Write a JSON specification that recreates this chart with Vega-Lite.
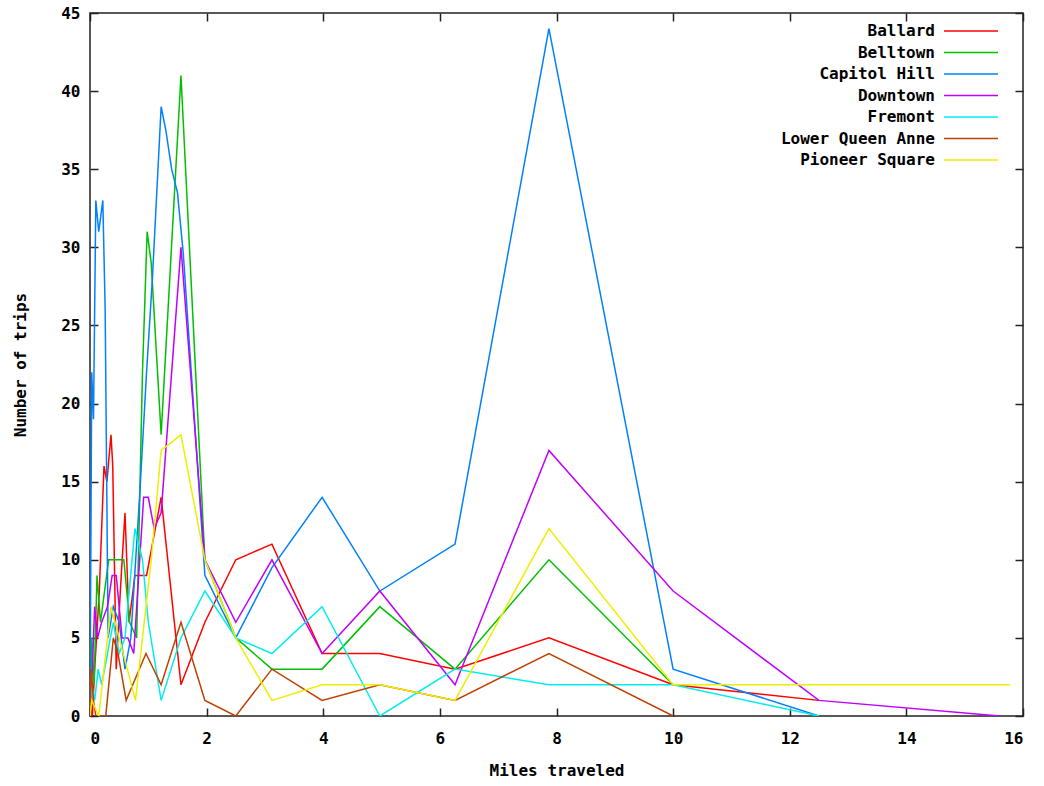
{
  "$schema": "https://vega.github.io/schema/vega-lite/v6.json",
  "width": 933,
  "height": 703,
  "autosize": "none",
  "padding": {"left": 90, "top": 13, "right": 21, "bottom": 70},
  "config": {
    "font": "DejaVu Sans Mono",
    "view": {"stroke": "#222222", "strokeWidth": 1.5},
    "axis": {"labelFont": "DejaVu Sans Mono", "labelFontWeight": "bold", "labelFontSize": 16, "labelColor": "#000", "titleFont": "DejaVu Sans Mono", "titleFontWeight": "bold", "titleFontSize": 16, "titleColor": "#000", "domain": false, "grid": false, "tickColor": "#222222", "tickWidth": 1.5, "tickSize": -8}
  },
  "data": {"values": [
    {"n":"Ballard","m":0,"t":1},{"n":"Ballard","m":0.04,"t":0},{"n":"Ballard","m":0.08,"t":3},{"n":"Ballard","m":0.16,"t":8},{"n":"Ballard","m":0.24,"t":16},{"n":"Ballard","m":0.29,"t":15},{"n":"Ballard","m":0.36,"t":18},{"n":"Ballard","m":0.39,"t":16},{"n":"Ballard","m":0.45,"t":3},{"n":"Ballard","m":0.52,"t":8},{"n":"Ballard","m":0.6,"t":13},{"n":"Ballard","m":0.67,"t":6},{"n":"Ballard","m":0.77,"t":9},{"n":"Ballard","m":0.97,"t":9},{"n":"Ballard","m":1.22,"t":14},{"n":"Ballard","m":1.56,"t":2},{"n":"Ballard","m":1.97,"t":6},{"n":"Ballard","m":2.5,"t":10},{"n":"Ballard","m":3.12,"t":11},{"n":"Ballard","m":3.98,"t":4},{"n":"Ballard","m":4.97,"t":4},{"n":"Ballard","m":6.26,"t":3},{"n":"Ballard","m":7.87,"t":5},{"n":"Ballard","m":10,"t":2},{"n":"Ballard","m":12.5,"t":1},
    {"n":"Belltown","m":0,"t":0},{"n":"Belltown","m":0.03,"t":5},{"n":"Belltown","m":0.07,"t":2},{"n":"Belltown","m":0.12,"t":9},{"n":"Belltown","m":0.18,"t":6},{"n":"Belltown","m":0.25,"t":8},{"n":"Belltown","m":0.32,"t":10},{"n":"Belltown","m":0.58,"t":10},{"n":"Belltown","m":0.68,"t":6},{"n":"Belltown","m":0.8,"t":5},{"n":"Belltown","m":0.9,"t":22},{"n":"Belltown","m":0.98,"t":31},{"n":"Belltown","m":1.05,"t":29},{"n":"Belltown","m":1.22,"t":18},{"n":"Belltown","m":1.56,"t":41},{"n":"Belltown","m":1.97,"t":10},{"n":"Belltown","m":2.5,"t":5},{"n":"Belltown","m":3.12,"t":3},{"n":"Belltown","m":3.98,"t":3},{"n":"Belltown","m":4.97,"t":7},{"n":"Belltown","m":6.26,"t":3},{"n":"Belltown","m":7.87,"t":10},{"n":"Belltown","m":10,"t":2},
    {"n":"Capitol Hill","m":0,"t":0},{"n":"Capitol Hill","m":0.03,"t":22},{"n":"Capitol Hill","m":0.06,"t":19},{"n":"Capitol Hill","m":0.1,"t":33},{"n":"Capitol Hill","m":0.15,"t":31},{"n":"Capitol Hill","m":0.22,"t":33},{"n":"Capitol Hill","m":0.26,"t":26},{"n":"Capitol Hill","m":0.31,"t":5},{"n":"Capitol Hill","m":0.4,"t":7},{"n":"Capitol Hill","m":0.5,"t":6},{"n":"Capitol Hill","m":0.6,"t":3},{"n":"Capitol Hill","m":0.7,"t":5},{"n":"Capitol Hill","m":0.85,"t":14},{"n":"Capitol Hill","m":0.97,"t":22},{"n":"Capitol Hill","m":1.07,"t":28},{"n":"Capitol Hill","m":1.22,"t":39},{"n":"Capitol Hill","m":1.3,"t":37.5},{"n":"Capitol Hill","m":1.4,"t":35},{"n":"Capitol Hill","m":1.5,"t":33.5},{"n":"Capitol Hill","m":1.6,"t":29.6},{"n":"Capitol Hill","m":1.97,"t":9},{"n":"Capitol Hill","m":2.5,"t":5},{"n":"Capitol Hill","m":3.12,"t":9.5},{"n":"Capitol Hill","m":3.98,"t":14},{"n":"Capitol Hill","m":4.97,"t":8},{"n":"Capitol Hill","m":6.26,"t":11},{"n":"Capitol Hill","m":7.87,"t":44},{"n":"Capitol Hill","m":10,"t":3},{"n":"Capitol Hill","m":12.5,"t":0},
    {"n":"Downtown","m":0,"t":0},{"n":"Downtown","m":0.04,"t":3},{"n":"Downtown","m":0.08,"t":7},{"n":"Downtown","m":0.13,"t":5},{"n":"Downtown","m":0.2,"t":6},{"n":"Downtown","m":0.3,"t":7},{"n":"Downtown","m":0.38,"t":9},{"n":"Downtown","m":0.45,"t":9},{"n":"Downtown","m":0.55,"t":5},{"n":"Downtown","m":0.65,"t":5},{"n":"Downtown","m":0.75,"t":4},{"n":"Downtown","m":0.92,"t":14},{"n":"Downtown","m":1.0,"t":14},{"n":"Downtown","m":1.1,"t":12},{"n":"Downtown","m":1.22,"t":13},{"n":"Downtown","m":1.56,"t":30},{"n":"Downtown","m":1.97,"t":10},{"n":"Downtown","m":2.5,"t":6},{"n":"Downtown","m":3.12,"t":10},{"n":"Downtown","m":3.98,"t":4},{"n":"Downtown","m":4.97,"t":8},{"n":"Downtown","m":6.26,"t":2},{"n":"Downtown","m":7.87,"t":17},{"n":"Downtown","m":10,"t":8},{"n":"Downtown","m":12.5,"t":1},{"n":"Downtown","m":15.6,"t":0},
    {"n":"Fremont","m":0,"t":0},{"n":"Fremont","m":0.03,"t":2},{"n":"Fremont","m":0.08,"t":1},{"n":"Fremont","m":0.14,"t":3},{"n":"Fremont","m":0.2,"t":2},{"n":"Fremont","m":0.3,"t":4},{"n":"Fremont","m":0.4,"t":6},{"n":"Fremont","m":0.5,"t":4},{"n":"Fremont","m":0.6,"t":5},{"n":"Fremont","m":0.77,"t":12},{"n":"Fremont","m":0.9,"t":10},{"n":"Fremont","m":1.0,"t":6},{"n":"Fremont","m":1.22,"t":1},{"n":"Fremont","m":1.56,"t":5},{"n":"Fremont","m":1.97,"t":8},{"n":"Fremont","m":2.5,"t":5},{"n":"Fremont","m":3.12,"t":4},{"n":"Fremont","m":3.98,"t":7},{"n":"Fremont","m":4.97,"t":0},{"n":"Fremont","m":6.26,"t":3},{"n":"Fremont","m":7.87,"t":2},{"n":"Fremont","m":10,"t":2},{"n":"Fremont","m":12.5,"t":0},
    {"n":"Lower Queen Anne","m":0,"t":0},{"n":"Lower Queen Anne","m":0.02,"t":3},{"n":"Lower Queen Anne","m":0.06,"t":1},{"n":"Lower Queen Anne","m":0.1,"t":0},{"n":"Lower Queen Anne","m":0.27,"t":0},{"n":"Lower Queen Anne","m":0.4,"t":5},{"n":"Lower Queen Anne","m":0.48,"t":4},{"n":"Lower Queen Anne","m":0.62,"t":1},{"n":"Lower Queen Anne","m":0.96,"t":4},{"n":"Lower Queen Anne","m":1.22,"t":2},{"n":"Lower Queen Anne","m":1.56,"t":6},{"n":"Lower Queen Anne","m":1.97,"t":1},{"n":"Lower Queen Anne","m":2.5,"t":0},{"n":"Lower Queen Anne","m":3.12,"t":3},{"n":"Lower Queen Anne","m":3.98,"t":1},{"n":"Lower Queen Anne","m":4.97,"t":2},{"n":"Lower Queen Anne","m":6.26,"t":1},{"n":"Lower Queen Anne","m":7.87,"t":4},{"n":"Lower Queen Anne","m":10,"t":0},
    {"n":"Pioneer Square","m":0,"t":0},{"n":"Pioneer Square","m":0.03,"t":1},{"n":"Pioneer Square","m":0.15,"t":0},{"n":"Pioneer Square","m":0.36,"t":7},{"n":"Pioneer Square","m":0.78,"t":1},{"n":"Pioneer Square","m":1.05,"t":10},{"n":"Pioneer Square","m":1.22,"t":17},{"n":"Pioneer Square","m":1.56,"t":18},{"n":"Pioneer Square","m":1.97,"t":10},{"n":"Pioneer Square","m":2.5,"t":5},{"n":"Pioneer Square","m":3.12,"t":1},{"n":"Pioneer Square","m":3.98,"t":2},{"n":"Pioneer Square","m":4.97,"t":2},{"n":"Pioneer Square","m":6.26,"t":1},{"n":"Pioneer Square","m":7.87,"t":12},{"n":"Pioneer Square","m":10,"t":2},{"n":"Pioneer Square","m":15.78,"t":2}
  ]},
  "encoding": {
    "x": {"field": "m", "type": "quantitative", "scale": {"domain": [0, 16], "nice": false, "zero": false}},
    "y": {"field": "t", "type": "quantitative", "scale": {"domain": [0, 45], "nice": false}}
  },
  "layer": [
    {
      "mark": {"type": "line", "strokeWidth": 1.5, "clip": true},
      "encoding": {
        "x": {"field": "m", "type": "quantitative", "axis": {"orient": "bottom", "values": [0,2,4,6,8,10,12,14,16], "title": "Miles traveled", "titlePadding": 16, "labelPadding": 22}},
        "y": {"field": "t", "type": "quantitative", "axis": {"orient": "left", "values": [0,5,10,15,20,25,30,35,40,45], "title": "Number of trips", "titlePadding": 32, "labelPadding": 18}},
        "color": {"field": "n", "type": "nominal", "scale": {"domain": ["Ballard","Belltown","Capitol Hill","Downtown","Fremont","Lower Queen Anne","Pioneer Square"], "range": ["#ff0000","#00c000","#0080ff","#c000ff","#00eeee","#c04000","#eeee00"]},
          "legend": {"orient": "none", "legendX": 871, "legendY": 8, "padding": 0, "title": null, "symbolType": "M-3,0H3", "symbolSize": 324, "symbolStrokeWidth": 1.5, "labelAlign": "right", "labelOffset": -46, "labelFont": "DejaVu Sans Mono", "labelFontWeight": "bold", "labelFontSize": 16, "labelColor": "#000", "rowPadding": 3.5, "symbolOpacity": 1}}
      }
    },
    {
      "mark": {"type": "line", "opacity": 0},
      "encoding": {
        "detail": {"field": "n"},
        "x": {"field": "m", "type": "quantitative", "axis": {"orient": "top", "values": [0,2,4,6,8,10,12,14,16], "labels": false, "title": null}},
        "y": {"field": "t", "type": "quantitative", "axis": {"orient": "right", "values": [0,5,10,15,20,25,30,35,40,45], "labels": false, "title": null}}
      }
    }
  ],
  "resolve": {"axis": {"x": "independent", "y": "independent"}}
}
